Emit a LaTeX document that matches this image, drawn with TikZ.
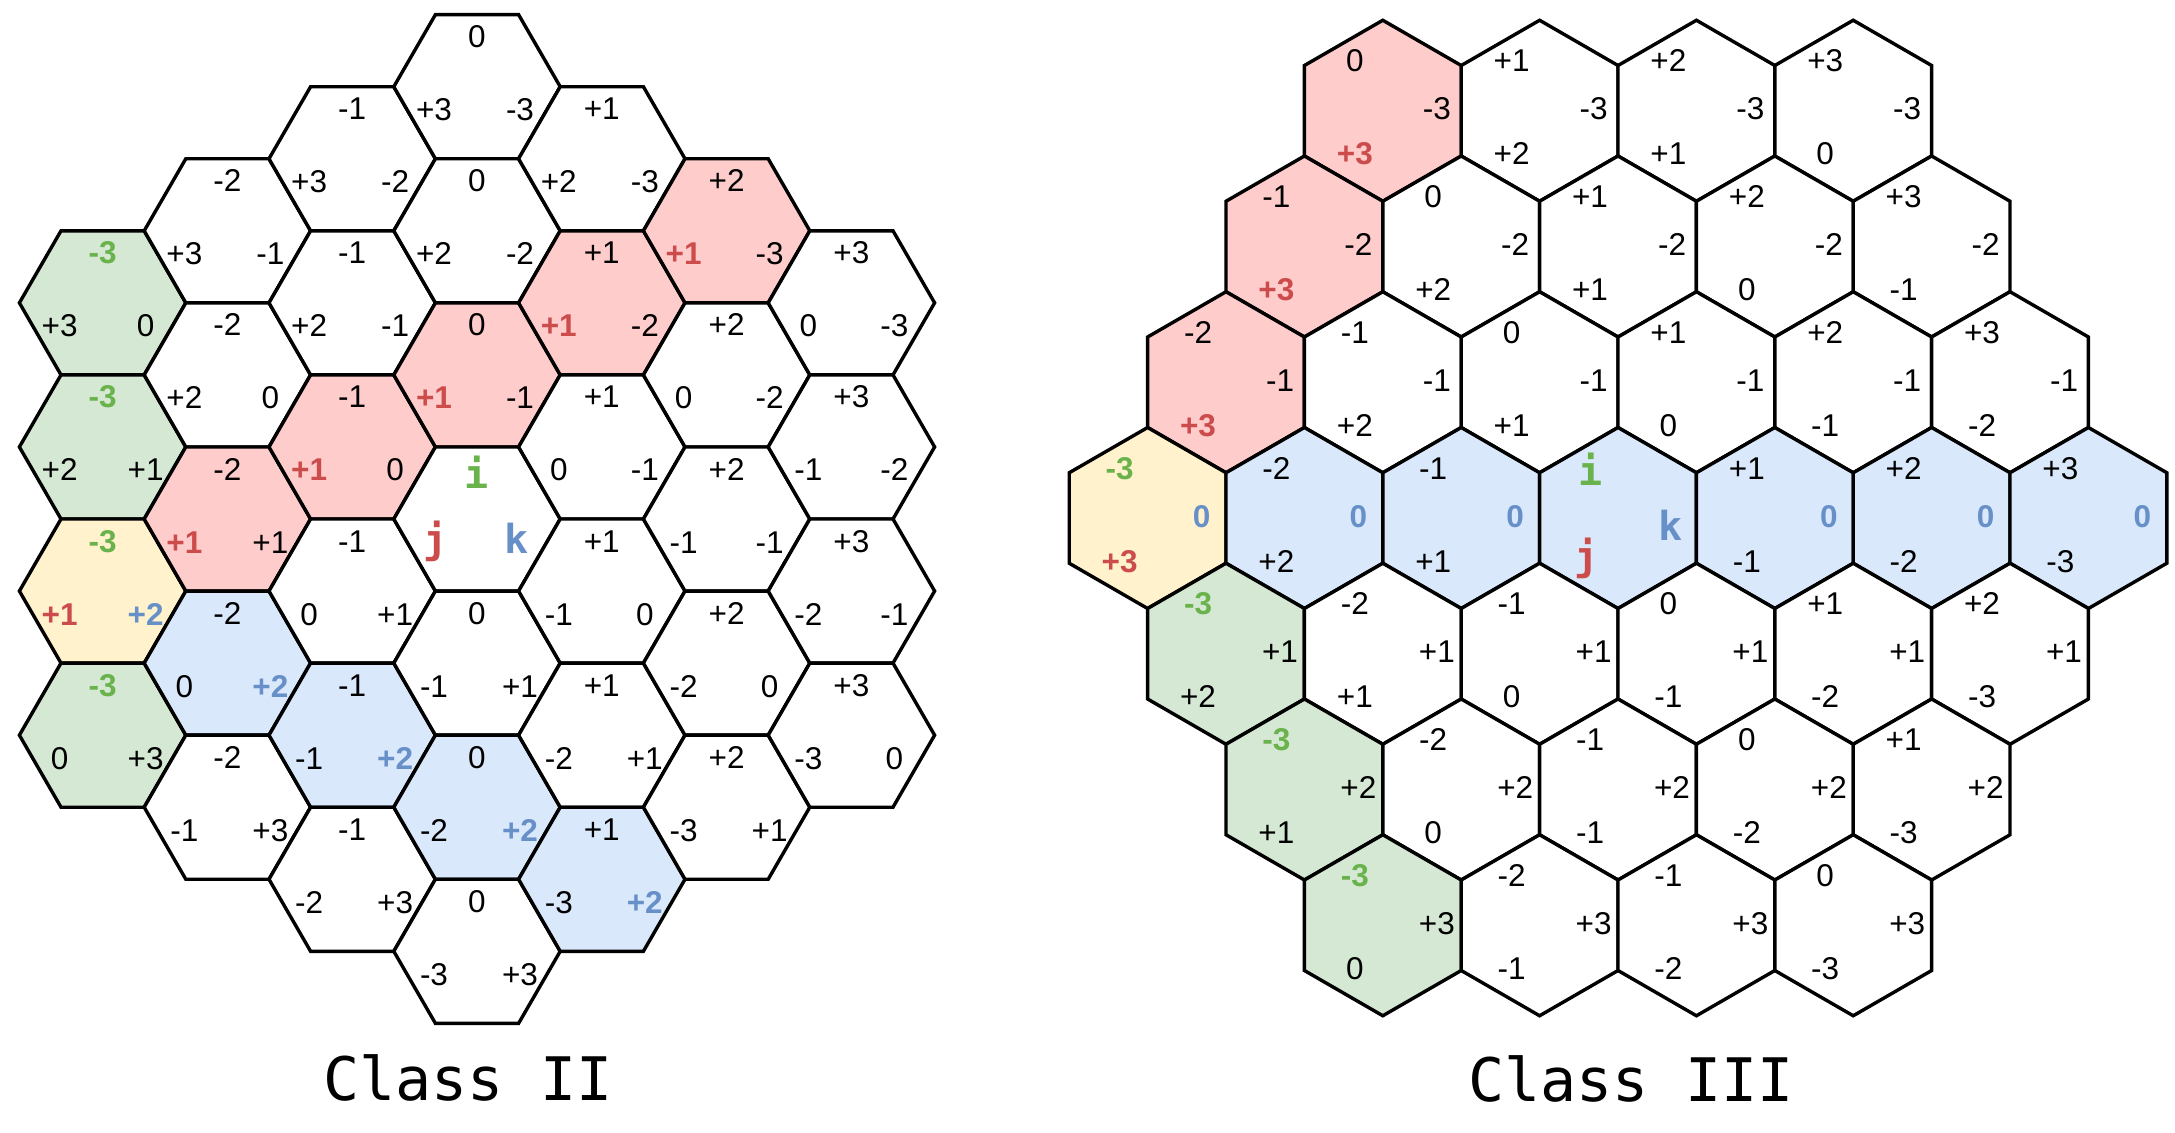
\documentclass[tikz,border=0pt]{standalone}
\usepackage{fontspec}
\setmainfont{Liberation Sans}
\newfontfamily\monofont{DejaVu Sans Mono}
\definecolor{cred}{HTML}{CC4B4B}
\definecolor{cgreen}{HTML}{6AB34C}
\definecolor{cblue}{HTML}{6890C8}
\definecolor{pinkf}{HTML}{FFCCCC}
\definecolor{greenf}{HTML}{D5E8D4}
\definecolor{yellowf}{HTML}{FFF2CC}
\definecolor{bluef}{HTML}{DAE8FC}
\newcounter{labc}
\tikzset{
  hexline/.style={draw=black, line width=3.4pt},
  lab/.style={anchor=base, inner sep=0pt, font=\fontsize{31.5}{36}\selectfont},
  ijk/.style={anchor=base, inner sep=0pt, font=\monofont\bfseries\fontsize{40}{48}\selectfont},
  classtitle/.style={anchor=base, inner sep=0pt, font=\monofont\fontsize{60}{72}\selectfont},
}
\newcommand\Rb[1]{\textcolor{cred}{\bfseries #1}}
\newcommand\Gb[1]{\textcolor{cgreen}{\bfseries #1}}
\newcommand\Bb[1]{\textcolor{cblue}{\bfseries #1}}
\newcommand\Lbl[3]{\stepcounter{labc}\node[lab] (t\arabic{labc}) at (#1,#2) {#3};}
% left grid: flat-top hexes, column q, row k
\newcommand\LHshape[3]{%
  \pgfmathsetmacro\cx{477+124.8*(#1)}%
  \pgfmathsetmacro\cy{86.7+72.05*abs(#1)+144.1*(#2)}%
  \filldraw[hexline, fill=#3] (\cx+83.2,\cy) -- (\cx+41.6,\cy-72.05) -- (\cx-41.6,\cy-72.05) -- (\cx-83.2,\cy) -- (\cx-41.6,\cy+72.05) -- (\cx+41.6,\cy+72.05) -- cycle;}
\newcommand\LH[6]{\LHshape{#1}{#2}{#3}\Lbl{\cx}{\cy-39}{#4}\Lbl{\cx-43}{\cy+34}{#5}\Lbl{\cx+43}{\cy+34}{#6}}
% right grid: pointy-top hexes, row r, column c
\newcommand\RHshape[3]{%
  \pgfmathsetmacro\cx{1147.6+78.4*abs(#1)+156.8*(#2)}%
  \pgfmathsetmacro\cy{518+135.75*(#1)}%
  \filldraw[hexline, fill=#3] (\cx,\cy-90.5) -- (\cx+78.4,\cy-45.25) -- (\cx+78.4,\cy+45.25) -- (\cx,\cy+90.5) -- (\cx-78.4,\cy+45.25) -- (\cx-78.4,\cy-45.25) -- cycle;}
\newcommand\RH[6]{\RHshape{#1}{#2}{#3}\Lbl{\cx-28}{\cy-39}{#4}\Lbl{\cx+54}{\cy+9}{#5}\Lbl{\cx-28}{\cy+54}{#6}}
\begin{document}
\begin{tikzpicture}[x=1pt,y=-1pt]
\useasboundingbox (0,0) rectangle (2175,1132);
% ---------- Class II ----------
\LH{-3}{0}{greenf}{\Gb{-3}}{+3}{0}
\LH{-3}{1}{greenf}{\Gb{-3}}{+2}{+1}
\LH{-3}{2}{yellowf}{\Gb{-3}}{\Rb{+1}}{\Bb{+2}}
\LH{-3}{3}{greenf}{\Gb{-3}}{0}{+3}
\LH{-2}{0}{white}{-2}{+3}{-1}
\LH{-2}{1}{white}{-2}{+2}{0}
\LH{-2}{2}{pinkf}{-2}{\Rb{+1}}{+1}
\LH{-2}{3}{bluef}{-2}{0}{\Bb{+2}}
\LH{-2}{4}{white}{-2}{-1}{+3}
\LH{-1}{0}{white}{-1}{+3}{-2}
\LH{-1}{1}{white}{-1}{+2}{-1}
\LH{-1}{2}{pinkf}{-1}{\Rb{+1}}{0}
\LH{-1}{3}{white}{-1}{0}{+1}
\LH{-1}{4}{bluef}{-1}{-1}{\Bb{+2}}
\LH{-1}{5}{white}{-1}{-2}{+3}
\LH{0}{0}{white}{0}{+3}{-3}
\LH{0}{1}{white}{0}{+2}{-2}
\LH{0}{2}{pinkf}{0}{\Rb{+1}}{-1}
\LHshape{0}{3}{white}
\node[ijk, text=cgreen] (li) at (\cx,\cy-31) {i};
\node[ijk, text=cred] (lj) at (\cx-41,\cy+34) {j};
\node[ijk, text=cblue] (lk) at (\cx+40,\cy+34) {k};
\LH{0}{4}{white}{0}{-1}{+1}
\LH{0}{5}{bluef}{0}{-2}{\Bb{+2}}
\LH{0}{6}{white}{0}{-3}{+3}
\LH{1}{0}{white}{+1}{+2}{-3}
\LH{1}{1}{pinkf}{+1}{\Rb{+1}}{-2}
\LH{1}{2}{white}{+1}{0}{-1}
\LH{1}{3}{white}{+1}{-1}{0}
\LH{1}{4}{white}{+1}{-2}{+1}
\LH{1}{5}{bluef}{+1}{-3}{\Bb{+2}}
\LH{2}{0}{pinkf}{+2}{\Rb{+1}}{-3}
\LH{2}{1}{white}{+2}{0}{-2}
\LH{2}{2}{white}{+2}{-1}{-1}
\LH{2}{3}{white}{+2}{-2}{0}
\LH{2}{4}{white}{+2}{-3}{+1}
\LH{3}{0}{white}{+3}{0}{-3}
\LH{3}{1}{white}{+3}{-1}{-2}
\LH{3}{2}{white}{+3}{-2}{-1}
\LH{3}{3}{white}{+3}{-3}{0}
\node[classtitle] (c2) at (468,1100) {Class II};
% ---------- Class III ----------
\RH{-3}{0}{pinkf}{0}{-3}{\Rb{+3}}
\RH{-3}{1}{white}{+1}{-3}{+2}
\RH{-3}{2}{white}{+2}{-3}{+1}
\RH{-3}{3}{white}{+3}{-3}{0}
\RH{-2}{0}{pinkf}{-1}{-2}{\Rb{+3}}
\RH{-2}{1}{white}{0}{-2}{+2}
\RH{-2}{2}{white}{+1}{-2}{+1}
\RH{-2}{3}{white}{+2}{-2}{0}
\RH{-2}{4}{white}{+3}{-2}{-1}
\RH{-1}{0}{pinkf}{-2}{-1}{\Rb{+3}}
\RH{-1}{1}{white}{-1}{-1}{+2}
\RH{-1}{2}{white}{0}{-1}{+1}
\RH{-1}{3}{white}{+1}{-1}{0}
\RH{-1}{4}{white}{+2}{-1}{-1}
\RH{-1}{5}{white}{+3}{-1}{-2}
\RH{0}{0}{yellowf}{\Gb{-3}}{\Bb{0}}{\Rb{+3}}
\RH{0}{1}{bluef}{-2}{\Bb{0}}{+2}
\RH{0}{2}{bluef}{-1}{\Bb{0}}{+1}
\RHshape{0}{3}{bluef}
\node[ijk, text=cgreen] (ri) at (\cx-27,\cy-33) {i};
\node[ijk, text=cblue] (rk) at (\cx+53,\cy+22) {k};
\node[ijk, text=cred] (rj) at (\cx-31,\cy+52) {j};
\RH{0}{4}{bluef}{+1}{\Bb{0}}{-1}
\RH{0}{5}{bluef}{+2}{\Bb{0}}{-2}
\RH{0}{6}{bluef}{+3}{\Bb{0}}{-3}
\RH{1}{0}{greenf}{\Gb{-3}}{+1}{+2}
\RH{1}{1}{white}{-2}{+1}{+1}
\RH{1}{2}{white}{-1}{+1}{0}
\RH{1}{3}{white}{0}{+1}{-1}
\RH{1}{4}{white}{+1}{+1}{-2}
\RH{1}{5}{white}{+2}{+1}{-3}
\RH{2}{0}{greenf}{\Gb{-3}}{+2}{+1}
\RH{2}{1}{white}{-2}{+2}{0}
\RH{2}{2}{white}{-1}{+2}{-1}
\RH{2}{3}{white}{0}{+2}{-2}
\RH{2}{4}{white}{+1}{+2}{-3}
\RH{3}{0}{greenf}{\Gb{-3}}{+3}{0}
\RH{3}{1}{white}{-2}{+3}{-1}
\RH{3}{2}{white}{-1}{+3}{-2}
\RH{3}{3}{white}{0}{+3}{-3}
\node[classtitle] (c3) at (1631,1101) {Class III};
\end{tikzpicture}
\end{document}
